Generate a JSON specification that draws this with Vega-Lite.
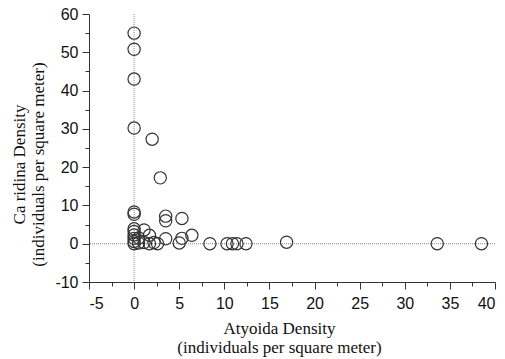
{
  "$schema": "https://vega.github.io/schema/vega-lite/v6.json",
  "autosize": "none",
  "width": 406,
  "height": 268,
  "padding": {"left": 89, "top": 14, "right": 10, "bottom": 77},
  "background": "white",
  "config": {"view": {"stroke": null}},
  "datasets": {
    "pts": [
      {"atyoida": 0, "caridina": 55},
      {"atyoida": 0, "caridina": 50.8},
      {"atyoida": 0, "caridina": 43},
      {"atyoida": 0, "caridina": 30.2},
      {"atyoida": 0, "caridina": 8.3},
      {"atyoida": 0, "caridina": 7.7},
      {"atyoida": 0, "caridina": 3.9},
      {"atyoida": 0, "caridina": 3.2},
      {"atyoida": 0, "caridina": 2.3},
      {"atyoida": 0, "caridina": 1.4},
      {"atyoida": 0, "caridina": 0.6},
      {"atyoida": 0, "caridina": 0},
      {"atyoida": 0.5, "caridina": 1.5},
      {"atyoida": 0.5, "caridina": 0.2},
      {"atyoida": 1.1, "caridina": 3.6},
      {"atyoida": 1.1, "caridina": 0.3},
      {"atyoida": 1.7, "caridina": 2.2},
      {"atyoida": 1.7, "caridina": 0},
      {"atyoida": 2.0, "caridina": 27.3},
      {"atyoida": 2.2, "caridina": 0.3},
      {"atyoida": 2.6, "caridina": 0},
      {"atyoida": 2.9, "caridina": 17.2},
      {"atyoida": 3.5, "caridina": 7.2},
      {"atyoida": 3.5, "caridina": 6.0},
      {"atyoida": 3.5, "caridina": 1.3},
      {"atyoida": 5.3, "caridina": 6.6},
      {"atyoida": 5.3, "caridina": 1.4},
      {"atyoida": 5.0, "caridina": 0.2},
      {"atyoida": 6.4, "caridina": 2.2},
      {"atyoida": 8.4, "caridina": 0},
      {"atyoida": 10.3, "caridina": 0},
      {"atyoida": 10.9, "caridina": 0},
      {"atyoida": 11.4, "caridina": 0},
      {"atyoida": 12.4, "caridina": 0},
      {"atyoida": 16.9, "caridina": 0.4},
      {"atyoida": 33.6, "caridina": 0},
      {"atyoida": 38.5, "caridina": 0}
    ],
    "refx": [{"v": 0}],
    "refy": [{"v": 0}]
  },
  "layer": [
    {
      "data": {"name": "refx"},
      "mark": {"type": "rule", "color": "#888", "strokeWidth": 1, "strokeDash": [1, 1]},
      "encoding": {
        "x": {"field": "v", "type": "quantitative", "scale": {"domain": [-5, 40], "nice": false, "zero": false},
          "axis": {"orient": "bottom", "values": [-2.5, 2.5, 7.5, 12.5, 17.5, 22.5, 27.5, 32.5, 37.5], "labels": false, "tickSize": 4, "domain": false, "grid": false, "title": null, "tickColor": "#333"}}
      }
    },
    {
      "data": {"name": "refy"},
      "mark": {"type": "rule", "color": "#888", "strokeWidth": 1, "strokeDash": [1, 1]},
      "encoding": {
        "y": {"field": "v", "type": "quantitative", "scale": {"domain": [-10, 60], "nice": false, "zero": false},
          "axis": {"orient": "left", "values": [-5, 5, 15, 25, 35, 45, 55], "labels": false, "tickSize": 4, "domain": false, "grid": false, "title": null, "tickColor": "#333"}}
      }
    },
    {
      "data": {"name": "pts"},
      "mark": {"type": "point", "shape": "circle", "filled": false, "size": 150, "stroke": "#333", "strokeWidth": 1.2, "opacity": 1},
      "encoding": {
        "x": {"field": "atyoida", "type": "quantitative", "scale": {"domain": [-5, 40], "nice": false, "zero": false},
          "axis": {"orient": "bottom", "values": [-5, 0, 5, 10, 15, 20, 25, 30, 35, 40], "labelExpr": "'' + datum.value", "tickSize": 7, "labelPadding": 6, "domainColor": "#333", "tickColor": "#333", "labelFont": "Liberation Sans", "labelFontSize": 16, "labelColor": "#111", "grid": false,
            "title": ["Atyoida Density", "(individuals per square meter)"], "titleFont": "Liberation Serif", "titleFontSize": 17, "titleFontWeight": "normal", "titleColor": "#111", "titlePadding": 9, "titleX": 190}},
        "y": {"field": "caridina", "type": "quantitative", "scale": {"domain": [-10, 60], "nice": false, "zero": false},
          "axis": {"orient": "left", "values": [-10, 0, 10, 20, 30, 40, 50, 60], "labelExpr": "'' + datum.value", "tickSize": 7, "labelPadding": 4, "domainColor": "#333", "tickColor": "#333", "labelFont": "Liberation Sans", "labelFontSize": 16, "labelColor": "#111", "grid": false,
            "title": ["Ca ridina Density", "(individuals per square meter)"], "titleFont": "Liberation Serif", "titleFontSize": 17, "titleFontWeight": "normal", "titleColor": "#111", "titlePadding": 7, "titleY": 150}}
      }
    }
  ],
  "resolve": {"axis": {"x": "independent", "y": "independent"}}
}
